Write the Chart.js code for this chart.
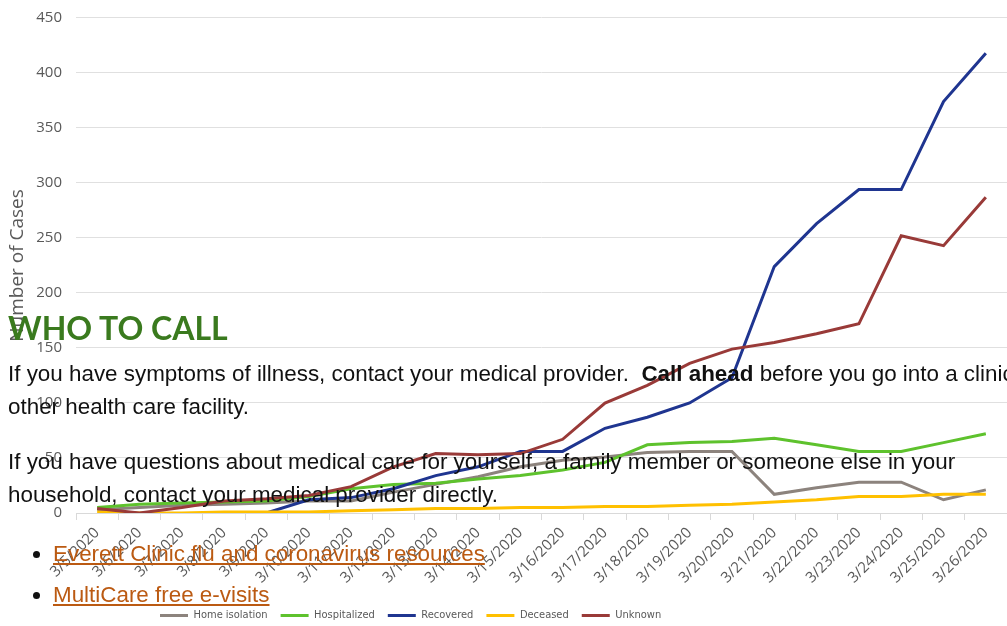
<!DOCTYPE html>
<html>
<head>
<meta charset="utf-8">
<script src="https://cdn.jsdelivr.net/npm/chart.js@4/dist/chart.umd.min.js"></script>
<style>
    html, body {
        margin: 0;
        padding: 0;
        width: 1007px;
        height: 626px;
        overflow: hidden;
        background: #ffffff;
    }
    #casesChart {
        position: absolute;
        left: 0;
        top: 0;
    }
    .content {
        position: absolute;
        left: 8px;
        top: 310px;
        z-index: 2;
        font-family: "Liberation Sans", Arial, sans-serif;
        font-size: 22.4px;
        color: #111111;
    }
    .content h2 {
        font-family: Lato, sans-serif;
        font-weight: 700;
        font-size: 32px;
        line-height: 36px;
        color: #3a7a1e;
        margin: 0 0 11px 0;
    }
    .content p {
        margin: 0 0 22px 0;
        line-height: 33px;
        white-space: nowrap;
    }
    .content ul {
        margin: 20px 0 0 0;
        padding-left: 45px;
    }
    .content li {
        line-height: 41px;
    }
    .content a {
        color: #bb5a12;
        text-decoration: underline;
    }
</style>
</head>
<body>
<canvas id="casesChart" width="1007" height="626"></canvas>

<div class="content">
    <h2>WHO TO CALL</h2>
    <p>If you have symptoms of illness, contact your medical provider.&nbsp; <strong>Call ahead</strong> before you go into a clinic or<br>other health care facility.</p>
    <p>If you have questions about medical care for yourself, a family member or someone else in your<br>household, contact your medical provider directly.</p>
    <ul>
        <li><a href="#">Everett Clinic flu and coronavirus resources</a></li>
        <li><a href="#">MultiCare free e-visits</a></li>
    </ul>
</div>

<script>
// ===============================
// DATA
// ===============================

const dates = [
    "3/5/2020", "3/6/2020", "3/7/2020", "3/8/2020", "3/9/2020", "3/10/2020",
    "3/11/2020", "3/12/2020", "3/13/2020", "3/14/2020", "3/15/2020", "3/16/2020",
    "3/17/2020", "3/18/2020", "3/19/2020", "3/20/2020", "3/21/2020", "3/22/2020",
    "3/23/2020", "3/24/2020", "3/25/2020", "3/26/2020"
];

const homeIsolation = [3, 5, 7, 8, 9, 11, 11, 19, 26, 33, 42, 48, 51, 55, 56, 56, 17, 23, 28, 28, 12, 21];
const hospitalized  = [5, 8, 9, 10, 11, 15, 22, 26, 27, 31, 34, 39, 46, 62, 64, 65, 68, 62, 56, 56, 64, 72];
const recovered     = [null, null, null, null, 0, 12, 14, 22, 34, 42, 56, 56, 77, 87, 100, 123, 224, 263, 294, 294, 374, 418];
const deceased      = [1, 0, 0, 1, 1, 1, 2, 3, 4, 4, 5, 5, 6, 6, 7, 8, 10, 12, 15, 15, 17, 17];
const unknown       = [4, 0, 5, 11, 13, 16, 24, 42, 54, 53, 54, 67, 100, 116, 136, 149, 155, 163, 172, 252, 243, 287];

const yTicks = { min: 0, max: 450, step: 50 };

// ===============================
// CHART STYLING
// ===============================

const axisGrey = "#595959";
const gridGrey = "#e0e0e0";

function series(label, data, color, order) {
    return {
        label: label,
        data: data,
        borderColor: color,
        backgroundColor: color,
        borderWidth: 3,
        pointRadius: 0,
        tension: 0,
        fill: false,
        spanGaps: false,
        order: order
    };
}

// shift the legend so it sits where the original one did
const legendShift = {
    id: "legendShift",
    afterLayout(chart) {
        const lg = chart.legend;
        if (lg) {
            lg.left = 147;
        }
    }
};

new Chart(document.getElementById("casesChart"), {
    type: "line",
    data: {
        labels: dates,
        datasets: [
            series("Home isolation", homeIsolation, "#8c837d", 5),
            series("Hospitalized", hospitalized, "#5ec22d", 4),
            series("Recovered", recovered, "#1f3590", 3),
            series("Deceased", deceased, "#ffc000", 2),
            series("Unknown", unknown, "#993a38", 1)
        ]
    },
    plugins: [legendShift],
    options: {
        responsive: false,
        animation: false,
        devicePixelRatio: 1,
        layout: {
            padding: { top: 14, right: 0, bottom: -5, left: 0 }
        },
        plugins: {
            legend: {
                position: "bottom",
                align: "start",
                labels: {
                    usePointStyle: true,
                    pointStyle: "line",
                    pointStyleWidth: 28,
                    padding: 13,
                    color: axisGrey,
                    font: { family: "'DejaVu Sans Condensed', 'Liberation Sans Narrow', sans-serif", size: 11 },
                    sort: (a, b) => a.datasetIndex - b.datasetIndex
                }
            },
            tooltip: { enabled: false }
        },
        scales: {
            x: {
                type: "category",
                offset: true,
                afterFit: (scale) => { scale.height = 84; },
                grid: {
                    offset: true,
                    drawOnChartArea: false,
                    drawTicks: true,
                    tickLength: 7,
                    color: "#d9d9d9"
                },
                border: { display: true, color: "#d9d9d9", width: 1 },
                ticks: {
                    autoSkip: false,
                    maxRotation: 45,
                    minRotation: 45,
                    padding: 4,
                    color: axisGrey,
                    font: { family: "'Open Sans', sans-serif", size: 15 }
                }
            },
            y: {
                min: yTicks.min,
                max: yTicks.max,
                afterFit: (scale) => { scale.width = 76; },
                grid: {
                    color: gridGrey,
                    drawTicks: false
                },
                border: { display: false },
                ticks: {
                    stepSize: yTicks.step,
                    padding: 14,
                    color: axisGrey,
                    font: { family: "'Open Sans', sans-serif", size: 15, lineHeight: 0.53 }
                },
                title: {
                    display: true,
                    text: "Number of Cases",
                    color: axisGrey,
                    padding: { top: 6, bottom: 0 },
                    font: { family: "'Open Sans', sans-serif", size: 19 }
                }
            }
        }
    }
});
</script>
</body>
</html>
